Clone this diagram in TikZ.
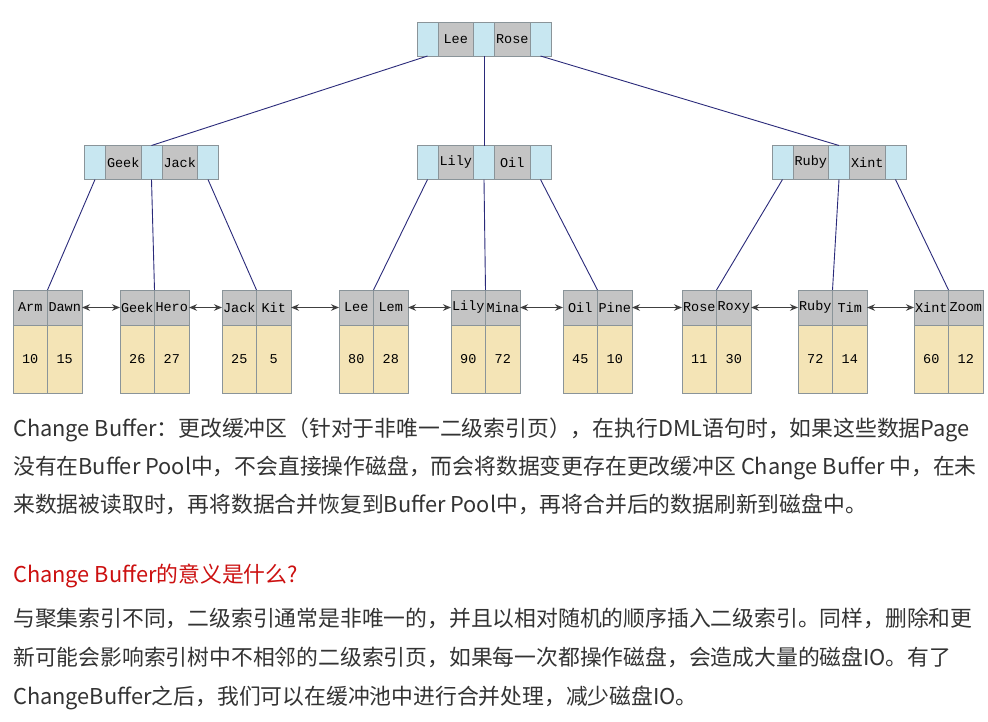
\documentclass[tikz,border=0pt]{standalone}
\usepackage{fontspec}
\newfontfamily\cjk{Noto Sans CJK SC}
\newfontfamily\mono{Liberation Mono}
\usetikzlibrary{arrows.meta,positioning}

\definecolor{ptrblue}{HTML}{C8E7F1}
\definecolor{keygray}{HTML}{C4C4C4}
\definecolor{valtan}{HTML}{F4E4B6}
\definecolor{cellline}{HTML}{8A9499}
\definecolor{linknavy}{HTML}{2A2A7A}
\definecolor{textdark}{HTML}{333333}
\definecolor{qred}{HTML}{CC1010}

% internal node: name, x, y, key1, key2
\newcommand{\inode}[5]{%
  \node[ptrcell, anchor=west] (#1-p0) at (#2,#3) {};
  \node[keycell, right=0pt of #1-p0] (#1-k1) {#4};
  \node[ptrcell, right=0pt of #1-k1] (#1-p1) {};
  \node[keycell, right=0pt of #1-p1] (#1-k2) {#5};
  \node[ptrcell, right=0pt of #1-k2] (#1-p2) {};
}
% leaf node: name, x, key1, key2, val1, val2
\newcommand{\leafnode}[6]{%
  \node[leafkey, anchor=north west] (#1-k1) at (#2,290) {#3};
  \node[leafkey, right=0pt of #1-k1] (#1-k2) {#4};
  \node[leafval, below=0pt of #1-k1] (#1-v1) {#5};
  \node[leafval, below=0pt of #1-k2] (#1-v2) {#6};
}

\begin{document}
\begin{tikzpicture}[x=1pt, y=-1pt, >=Stealth,
  cellbox/.style={draw=cellline, line width=0.6pt, inner sep=0pt, outer sep=0pt,
    font=\mono\fontsize{13.5}{15}\selectfont},
  ptrcell/.style={cellbox, fill=ptrblue, minimum width=21pt, minimum height=34pt},
  keycell/.style={cellbox, fill=keygray, minimum width=35.5pt, minimum height=34pt},
  leafkey/.style={cellbox, fill=keygray, minimum width=34.5pt, minimum height=35pt},
  leafval/.style={cellbox, fill=valtan, minimum width=34.5pt, minimum height=68pt},
  treelink/.style={draw=linknavy, line width=0.9pt},
  siblink/.style={{Stealth[length=8pt,width=6.5pt]}-{Stealth[length=8pt,width=6.5pt]}, draw=black!75, line width=0.9pt},
  textline/.style={anchor=base west, inner sep=0pt, text=textdark,
    font=\cjk\fontsize{21.8}{26}\selectfont}]
  \useasboundingbox[fill=white] (0,0) rectangle (988,721);

  % internal nodes
  \inode{root}{417}{39}{Lee}{Rose}
  \inode{left}{84.5}{162.5}{Geek}{Jack}
  \inode{mid}{417}{162.5}{Lily}{Oil}
  \inode{right}{772}{162.5}{Ruby}{Xint}

  % leaves
  \leafnode{lf1}{13}{Arm}{Dawn}{10}{15}
  \leafnode{lf2}{120}{Geek}{Hero}{26}{27}
  \leafnode{lf3}{222}{Jack}{Kit}{25}{5}
  \leafnode{lf4}{339}{Lee}{Lem}{80}{28}
  \leafnode{lf5}{451}{Lily}{Mina}{90}{72}
  \leafnode{lf6}{563}{Oil}{Pine}{45}{10}
  \leafnode{lf7}{682}{Rose}{Roxy}{11}{30}
  \leafnode{lf8}{798}{Ruby}{Tim}{72}{14}
  \leafnode{lf9}{914}{Xint}{Zoom}{60}{12}

  \draw[treelink] (root-p0.south) -- (left-p1.north);
  \draw[treelink] (root-p1.south) -- (mid-p1.north);
  \draw[treelink] (root-p2.south) -- (right-p1.north);

  \draw[treelink] (left-p0.south) -- (lf1-k1.north east);
  \draw[treelink] (left-p1.south) -- (lf2-k1.north east);
  \draw[treelink] (left-p2.south) -- (lf3-k1.north east);
  \draw[treelink] (mid-p0.south) -- (lf4-k1.north east);
  \draw[treelink] (mid-p1.south) -- (lf5-k1.north east);
  \draw[treelink] (mid-p2.south) -- (lf6-k1.north east);
  \draw[treelink] (right-p0.south) -- (lf7-k1.north east);
  \draw[treelink] (right-p1.south) -- (lf8-k1.north east);
  \draw[treelink] (right-p2.south) -- (lf9-k1.north east);

  \foreach \a/\b in {1/2,2/3,3/4,4/5,5/6,6/7,7/8,8/9}
    \draw[siblink] (lf\a-k2.east) -- (lf\b-k1.west);

  % text below
  \node[textline] (t1) at (13,436) {Change Buffer：更改缓冲区（针对于非唯一二级索引页），在执行DML语句时，如果这些数据Page};
  \node[textline] (t2) at (13,474) {没有在Buffer Pool中，不会直接操作磁盘，而会将数据变更存在更改缓冲区 Change Buffer 中，在未};
  \node[textline] (t3) at (13,512) {来数据被读取时，再将数据合并恢复到Buffer Pool中，再将合并后的数据刷新到磁盘中。};
  \node[textline, text=qred] (q) at (13,582) {Change Buffer的意义是什么?};
  \node[textline] (p1) at (13,626) {与聚集索引不同，二级索引通常是非唯一的，并且以相对随机的顺序插入二级索引。同样，删除和更};
  \node[textline] (p2) at (13,665) {新可能会影响索引树中不相邻的二级索引页，如果每一次都操作磁盘，会造成大量的磁盘IO。有了};
  \node[textline] (p3) at (13,704) {ChangeBuffer之后，我们可以在缓冲池中进行合并处理，减少磁盘IO。};
\end{tikzpicture}
\end{document}
